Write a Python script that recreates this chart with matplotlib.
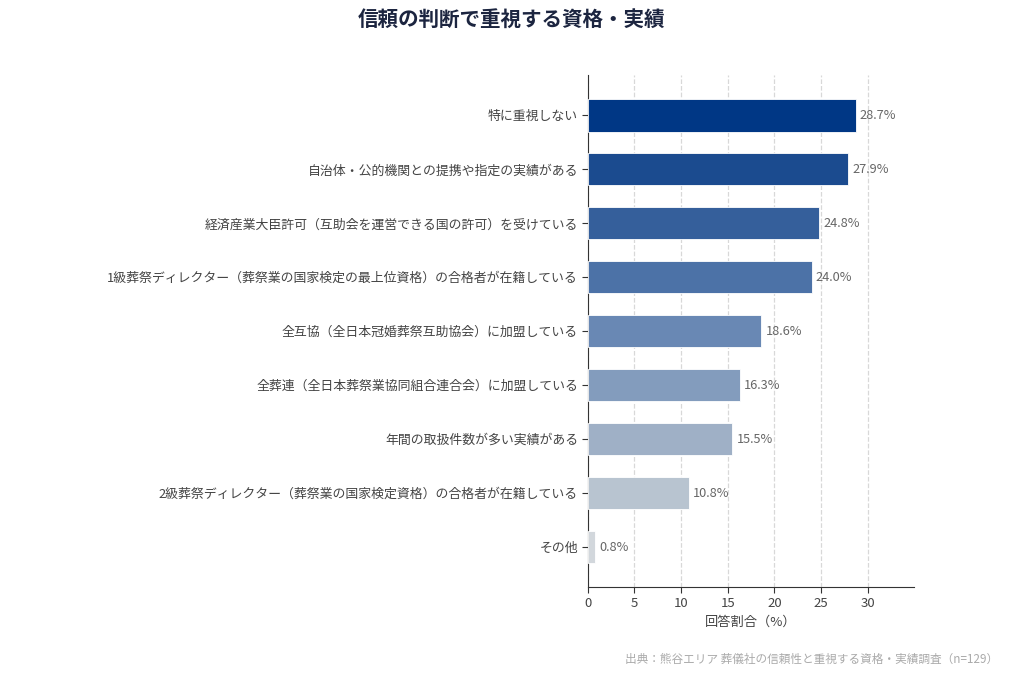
import matplotlib
matplotlib.use("Agg")
import matplotlib.pyplot as plt

plt.rcParams['font.family'] = ['Noto Sans CJK JP', 'DejaVu Sans']

# data
categories = [
    "特に重視しない",
    "自治体・公的機関との提携や指定の実績がある",
    "経済産業大臣許可（互助会を運営できる国の許可）を受けている",
    "1級葬祭ディレクター（葬祭業の国家検定の最上位資格）の合格者が在籍している",
    "全互協（全日本冠婚葬祭互助協会）に加盟している",
    "全葬連（全日本葬祭業協同組合連合会）に加盟している",
    "年間の取扱件数が多い実績がある",
    "2級葬祭ディレクター（葬祭業の国家検定資格）の合格者が在籍している",
    "その他",
]
values = [28.7, 27.9, 24.8, 24.0, 18.6, 16.3, 15.5, 10.8, 0.8]
colors = ["#003785", "#1b4b8f", "#355f9b", "#4c72a7", "#6988b4",
          "#839cbd", "#9fb0c6", "#b8c4d0", "#d2d7dc"]
xticks = [0, 5, 10, 15, 20, 25, 30]

fig = plt.figure(figsize=(10.24, 6.83), dpi=100)
ax = fig.add_axes([0.574, 0.1406, 0.319, 0.749])

ypos = list(range(len(categories)))[::-1]
ax.barh(ypos, values, height=0.6, color=colors, edgecolor="white", linewidth=0.6, zorder=3)

for y, v in zip(ypos, values):
    ax.text(v + 0.45, y, f"{v}%", va="center", ha="left", fontsize=9.2, color="#666666")

ax.set_yticks(ypos)
ax.set_yticklabels(categories, fontsize=9.3, color="#444444")
ax.set_xticks(xticks)
ax.set_xticklabels([str(t) for t in xticks], fontsize=9.5, color="#444444")
ax.set_xlim(0, 35)
ax.set_ylim(-0.74, 8.74)
ax.set_xlabel("回答割合（%）", fontsize=9.5, color="#444444", labelpad=4)

ax.grid(axis="x", linestyle="--", color="#d8d8d8", linewidth=0.9, zorder=0)
ax.spines["top"].set_visible(False)
ax.spines["right"].set_visible(False)
ax.spines["left"].set_color("#333333")
ax.spines["bottom"].set_color("#333333")
ax.tick_params(axis="both", colors="#333333", length=4)
ax.tick_params(axis="y", labelcolor="#444444", pad=3)
ax.tick_params(axis="x", labelcolor="#444444")

fig.text(0.5, 0.972, "信頼の判断で重視する資格・実績", ha="center", va="center",
         fontsize=14.8, fontweight="bold", color="#1c2540")
fig.text(0.975, 0.034, "出典：熊谷エリア 葬儀社の信頼性と重視する資格・実績調査（n=129）",
         ha="right", va="center", fontsize=8.4, color="#aaaaaa")

fig.savefig("out.png", dpi=100, facecolor="white")
